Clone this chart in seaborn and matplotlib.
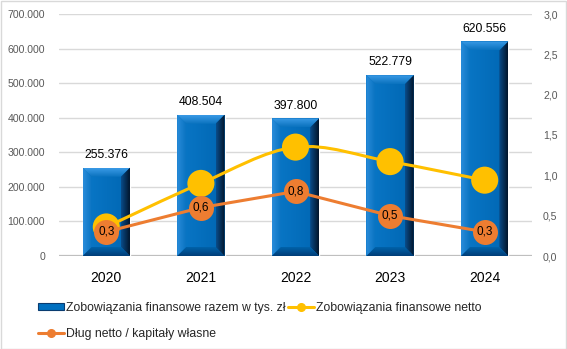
import numpy as np
import pandas as pd
import seaborn as sns
import matplotlib
matplotlib.use("Agg")
import matplotlib.pyplot as plt
from matplotlib.path import Path
from matplotlib.patches import PathPatch, Polygon, Rectangle
from matplotlib.lines import Line2D
from matplotlib.ticker import FuncFormatter, MultipleLocator

# --- data -------------------------------------------------------------
years = ["2020", "2021", "2022", "2023", "2024"]
liabilities_total = [255376, 408504, 397800, 522779, 620556]   # tys. zł
net_liabilities = [0.36, 0.90, 1.35, 1.17, 0.94]                 # right axis
net_debt_to_equity = [0.3, 0.6, 0.8, 0.5, 0.3]                   # right axis

label_bars = "Zobowiązania finansowe razem w tys. zł"
label_net = "Zobowiązania finansowe netto"
label_ratio = "Dług netto / kapitały własne"

BLUE = "#0070C0"
YELLOW = "#FFC000"
ORANGE = "#ED7D31"
GRID = "#D9D9D9"
TICK = "#595959"

sns.set_theme(style="white")
plt.rcParams["font.family"] = ["Liberation Sans", "DejaVu Sans"]

W, H, DPI = 567, 349, 100
fig = plt.figure(figsize=(W / DPI, H / DPI), dpi=DPI)
ax = fig.add_axes([59 / W, 1 - 256 / H, (532 - 59) / W, (256 - 14) / H])

df = pd.DataFrame({"year": years, "value": liabilities_total})
sns.barplot(data=df, x="year", y="value", color=BLUE, width=0.5,
            saturation=1, ax=ax, zorder=2)

ax.set_xlim(-0.5, 4.5)
ax.set_ylim(0, 700000)
ax.yaxis.set_major_locator(MultipleLocator(100000))
ax.yaxis.set_major_formatter(
    FuncFormatter(lambda v, p: "0" if v == 0 else f"{int(v):,}".replace(",", ".")))
ax.grid(axis="y", color=GRID, linewidth=1, zorder=0)
ax.set_axisbelow(True)
for s in ax.spines.values():
    s.set_visible(False)
ax.axhline(0, color="#BFBFBF", linewidth=1.6, zorder=1)
ax.set_xlabel("")
ax.set_ylabel("")
ax.tick_params(axis="y", length=0, pad=10, labelsize=7.6, labelcolor=TICK)
ax.tick_params(axis="x", length=0, pad=11, labelsize=10, labelcolor="black")

# --- bevelled look for the bars ---------------------------------------
fig.canvas.draw()
to_px = ax.transData
px_per_x = (to_px.transform((1, 0)) - to_px.transform((0, 0)))[0]
px_per_y = (to_px.transform((0, 100000)) - to_px.transform((0, 0)))[1] / 100000
bev = 9
dx, dy = bev / px_per_x, bev / px_per_y


def gradient_fill(poly_xy, c0, c1, horizontal, zorder):
    poly = Polygon(poly_xy, closed=True, facecolor="none", edgecolor="none")
    ax.add_patch(poly)
    xs = [p[0] for p in poly_xy]
    ys = [p[1] for p in poly_xy]
    c0 = np.array(matplotlib.colors.to_rgb(c0))
    c1 = np.array(matplotlib.colors.to_rgb(c1))
    t = np.linspace(0, 1, 64)
    cols = c0[None, :] * (1 - t[:, None]) + c1[None, :] * t[:, None]
    img = cols[None, :, :] if horizontal else cols[:, None, :]
    im = ax.imshow(img, extent=(min(xs), max(xs), min(ys), max(ys)),
                   origin="lower", aspect="auto", zorder=zorder,
                   interpolation="bilinear")
    im.set_clip_path(poly)


for bar in ax.patches[:]:
    if not isinstance(bar, Rectangle):
        continue
    x0, y0 = bar.get_x(), bar.get_y()
    x1, y1 = x0 + bar.get_width(), y0 + bar.get_height()
    if bar.get_height() <= 0:
        continue
    gradient_fill([(x0, y0), (x1, y0), (x1, y1), (x0, y1)],
                  "#0A78C8", "#0066B2", True, 2.1)
    gradient_fill([(x0, y1), (x1, y1), (x1 - dx, y1 - dy), (x0 + dx, y1 - dy)],
                  "#0A72BE", "#3A9AE6", False, 2.2)
    gradient_fill([(x0, y0), (x0 + dx, y0 + dy), (x0 + dx, y1 - dy), (x0, y1)],
                  "#2A8CDA", "#0A74C2", True, 2.3)
    gradient_fill([(x1, y0), (x1, y1), (x1 - dx, y1 - dy), (x1 - dx, y0 + dy)],
                  "#0A4C8A", "#02152A", True, 2.4)
    gradient_fill([(x0, y0), (x1, y0), (x1 - dx, y0 + dy), (x0 + dx, y0 + dy)],
                  "#003E78", "#0062AA", False, 2.5)

for i, v in enumerate(liabilities_total):
    ax.annotate(f"{v:,}".replace(",", "."), (i, v), xytext=(0, 5),
                textcoords="offset points", ha="center", va="bottom",
                fontsize=8.8, color="black", zorder=6)

# --- right axis: ratios -----------------------------------------------
ax2 = ax.twinx()
ax2.set_ylim(0, 3.0)
ax2.yaxis.set_major_locator(MultipleLocator(0.5))
ax2.yaxis.set_major_formatter(FuncFormatter(lambda v, p: f"{v:.1f}".replace(".", ",")))
ax2.tick_params(axis="y", length=0, pad=8, labelsize=7.6, labelcolor=TICK)
for s in ax2.spines.values():
    s.set_visible(False)
ax2.grid(False)

xpos = np.arange(len(years))

# smoothed line through the "netto" points (cubic Bézier segments)
pts = np.column_stack([xpos, net_liabilities]).astype(float)
verts = [tuple(pts[0])]
codes = [Path.MOVETO]
for k in range(len(pts) - 1):
    p0 = pts[k - 1] if k > 0 else pts[k]
    p1, p2 = pts[k], pts[k + 1]
    p3 = pts[k + 2] if k + 2 < len(pts) else pts[k + 1]
    c1 = p1 + (p2 - p0) / 6
    c2 = p2 - (p3 - p1) / 6
    verts += [tuple(c1), tuple(c2), tuple(p2)]
    codes += [Path.CURVE4] * 3
ax2.add_patch(PathPatch(Path(verts, codes), facecolor="none", edgecolor=YELLOW,
                        linewidth=2.2, zorder=3))
sns.scatterplot(x=xpos, y=net_liabilities, color=YELLOW, s=19.5 ** 2,
                edgecolor="none", ax=ax2, zorder=4, legend=False)

sns.lineplot(x=xpos, y=net_debt_to_equity, color=ORANGE, linewidth=2.2,
             marker="o", markersize=18, markeredgewidth=0, ax=ax2, zorder=5,
             legend=False)
for i, v in enumerate(net_debt_to_equity):
    ax2.text(i, v, f"{v:.1f}".replace(".", ","), ha="center", va="center",
             fontsize=8.5, color="black", zorder=7)

ax2.set_xlim(-0.5, 4.5)
ax2.set_ylabel("")

# --- legend -----------------------------------------------------------
handles = [
    Rectangle((0, 0), 1, 1, facecolor=BLUE, edgecolor="#0A3C70", linewidth=0.8),
    Line2D([], [], color=ORANGE, linewidth=2.2, marker="o", markersize=5.5),
    Line2D([], [], color=YELLOW, linewidth=2.2, marker="o", markersize=5.5),
]
labels = [label_bars, label_ratio, label_net]
fig.legend(handles, labels, ncol=2, loc="upper left",
           bbox_to_anchor=(38 / W, 1 - 302 / H), frameon=False,
           fontsize=8.8, handlelength=2.15, handleheight=0.5,
           handletextpad=0.15, columnspacing=0.2, labelspacing=1.15,
           borderaxespad=0, borderpad=0)

# outer frame
fig.patches.append(Rectangle((0.5 / W, 0.5 / H), 1 - 1.5 / W, 1 - 1.5 / H,
                             transform=fig.transFigure, fill=False,
                             edgecolor="#D9D9D9", linewidth=1))

fig.savefig("out.png", dpi=DPI)
